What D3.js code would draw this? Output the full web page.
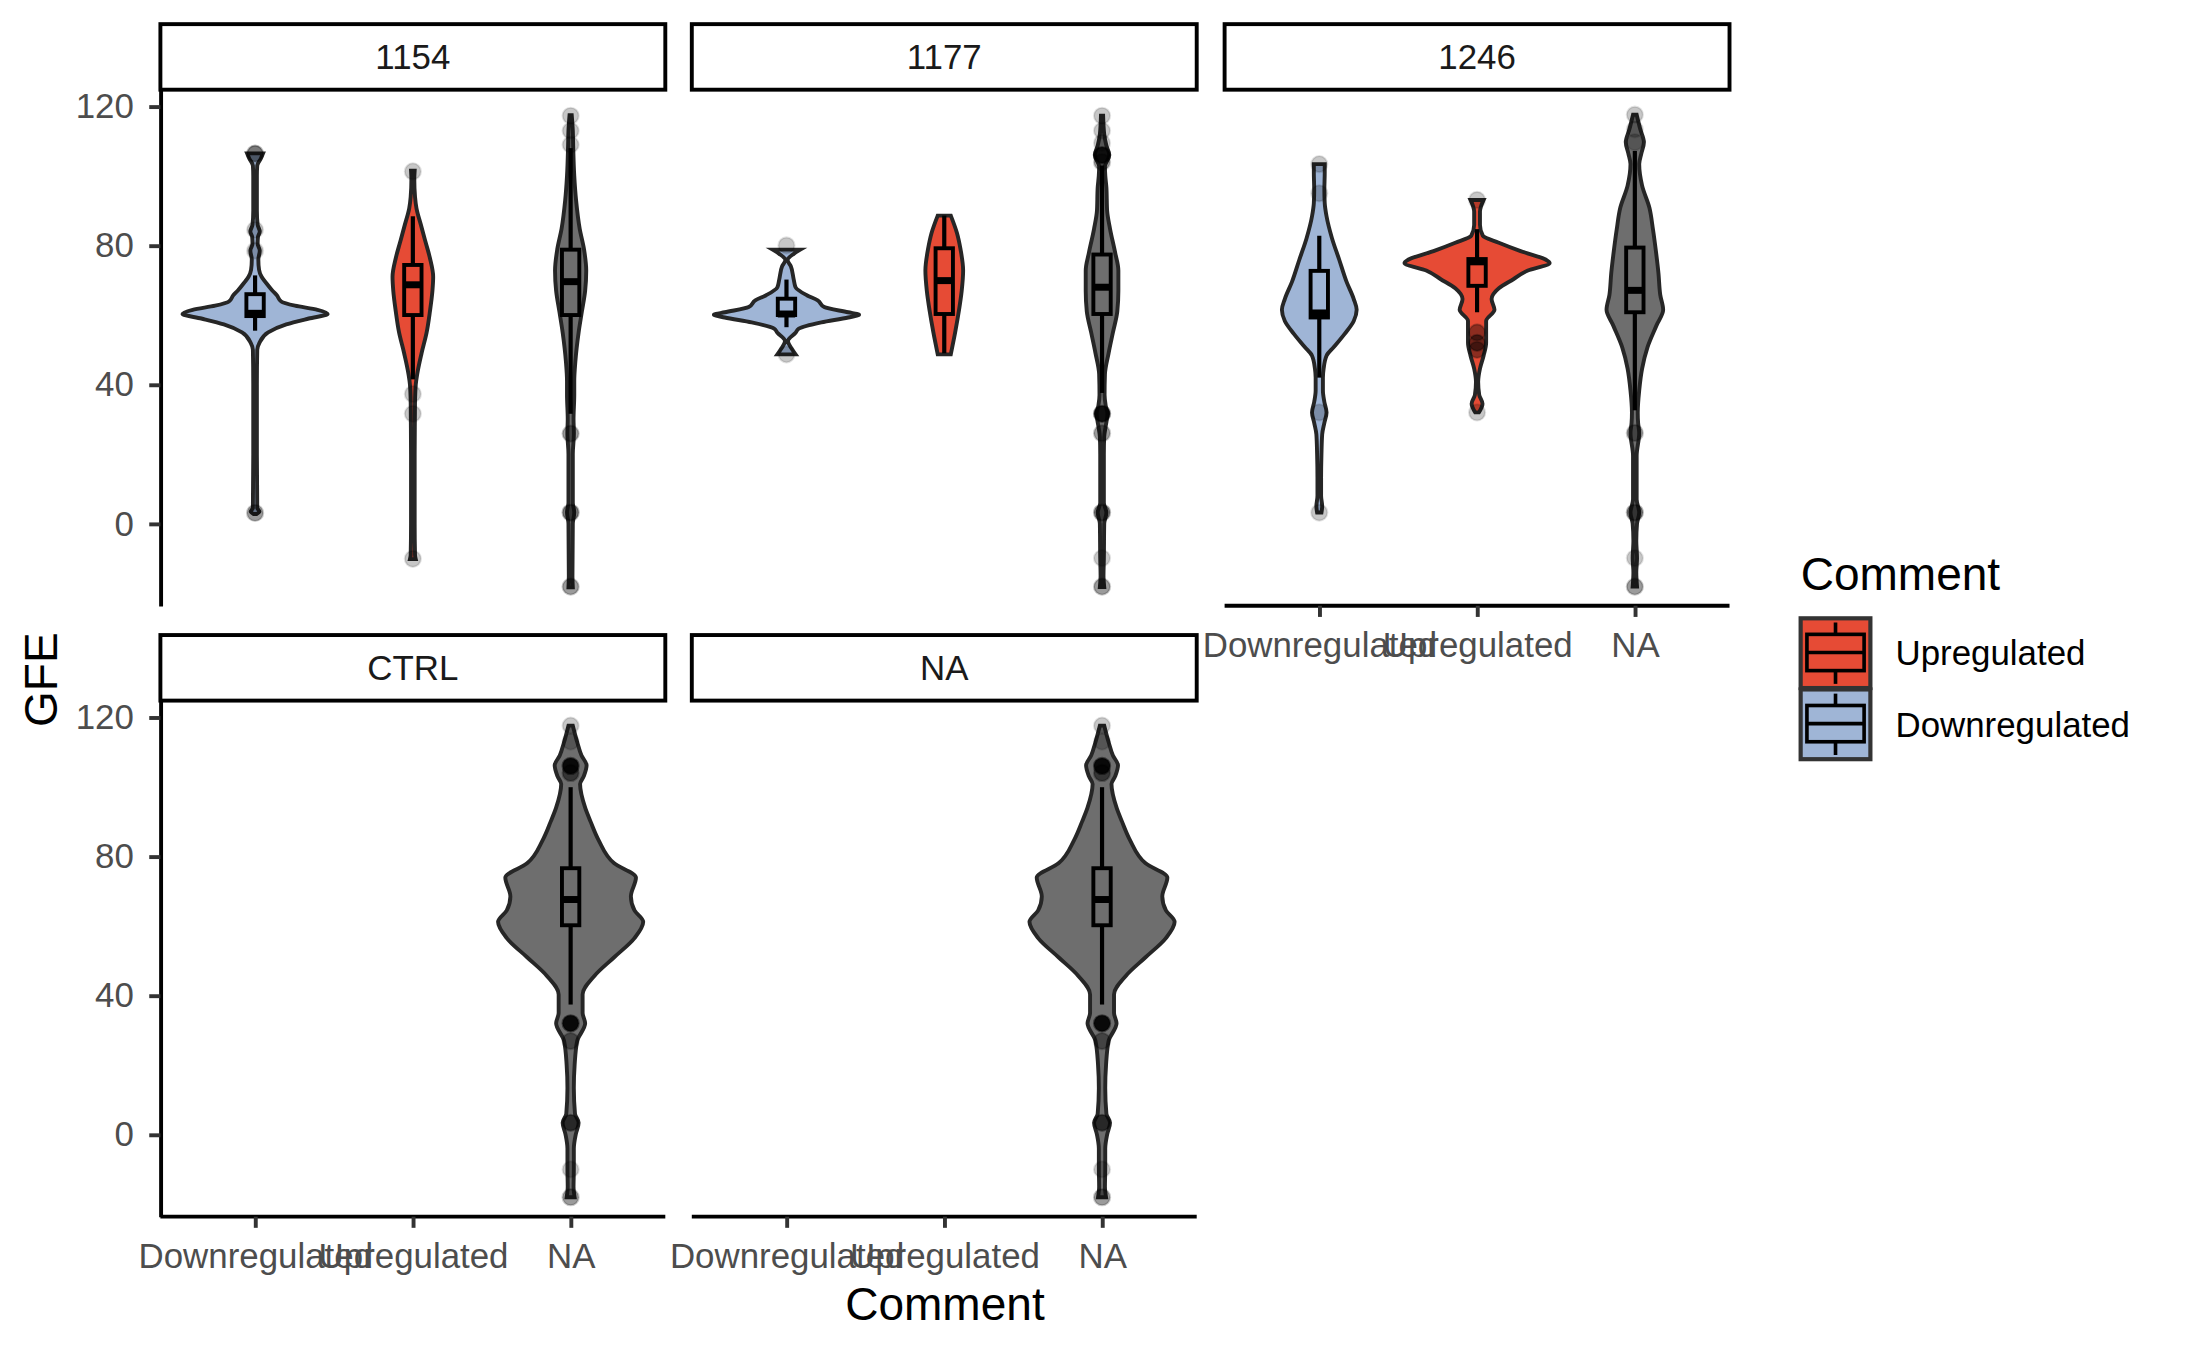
<!DOCTYPE html>
<html>
<head>
<meta charset="utf-8">
<script src="https://cdn.jsdelivr.net/npm/d3@7"></script>
<style>
  body { margin: 0; background: #fff; }
  text { font-family: "Liberation Sans", Arial, Helvetica, sans-serif; }
</style>
</head>
<body>
<div id="chart"></div>
<script>
// categories / facets
const comments = ["Downregulated", "Upregulated", "NA"];
const facets = ["1154", "1177", "1246", "CTRL", "NA"];
const yTicks = [0, 40, 80, 120];
const legendItems = ["Upregulated", "Downregulated"];

// violin outlines: [GFE, relative half width]
const v1154Down = [[2.8,0.02],[3.5,0.06],[4.5,0.03],[20,0.025],[40,0.025],[50,0.03],[52,0.06],[55,0.18],[57.3,0.43],[59,0.74],[60.3,1.0],[61.5,0.86],[62.7,0.55],[63.9,0.36],[65.7,0.3],[67,0.24],[69.3,0.15],[71,0.09],[73,0.055],[76,0.045],[78.5,0.065],[80.5,0.035],[82.5,0.04],[84,0.065],[86,0.035],[90,0.025],[100,0.025],[103,0.03],[105,0.08],[106.5,0.11]];
const v1154Up = [[-10.2,0.04],[-9,0.03],[0,0.025],[20,0.025],[30,0.028],[35,0.03],[40,0.04],[43,0.06],[49,0.12],[55,0.19],[61,0.235],[67,0.27],[71,0.28],[76.4,0.235],[81,0.175],[86,0.11],[90.7,0.05],[94,0.03],[99,0.02],[101.5,0.025]];
const v1154NA = [[-18.3,0.03],[-15,0.025],[0,0.03],[3.3,0.05],[6,0.03],[20,0.03],[26,0.045],[30,0.04],[37,0.05],[41,0.05],[46.6,0.065],[55,0.11],[61,0.155],[67,0.2],[72.8,0.215],[78.8,0.185],[84.8,0.125],[93,0.075],[100,0.05],[108.7,0.035],[113,0.03],[117.5,0.015]];

const v1177Down = [[48.7,0.125],[50.1,0.08],[52.5,0.02],[54.9,0.125],[56.1,0.17],[57.9,0.48],[59.3,0.85],[60.1,1.0],[60.8,0.85],[62.3,0.52],[64.2,0.43],[65.7,0.28],[68,0.125],[70.2,0.1],[74,0.06],[75.8,0.015],[77.6,0.1],[78.8,0.19]];
const v1177Up = [[48.7,0.09],[55,0.15],[61,0.2],[66.9,0.24],[72.8,0.26],[78.8,0.225],[83.6,0.175],[88.6,0.09]];
const v1177NA = [[-18.2,0.03],[-15,0.02],[-10,0.025],[0,0.03],[3.2,0.06],[6,0.025],[20,0.025],[25,0.03],[28,0.05],[31.6,0.075],[34,0.05],[37,0.035],[43,0.04],[49,0.09],[55,0.15],[61,0.21],[67,0.225],[72.8,0.225],[78,0.18],[84.8,0.11],[90,0.07],[96.7,0.06],[100,0.045],[102.7,0.04],[106,0.1],[108.7,0.06],[112,0.03],[117.3,0.015]];

const v1246Down = [[3.2,0.03],[5,0.04],[8,0.025],[13.2,0.025],[20,0.03],[25.7,0.04],[29,0.07],[32,0.1],[35,0.07],[38.3,0.05],[42,0.05],[44.6,0.06],[48.3,0.1],[50.8,0.2],[54.6,0.35],[58.3,0.475],[61.5,0.515],[64.6,0.475],[69.6,0.375],[75.9,0.275],[82.1,0.175],[88.4,0.1],[92.2,0.075],[96,0.07],[101,0.075],[103.4,0.075]];
const v1246Up = [[32,0.025],[34.5,0.075],[37,0.03],[40.8,0.015],[44.6,0.04],[48.3,0.09],[52,0.125],[55.8,0.125],[58.3,0.125],[61.5,0.24],[64.6,0.2],[67.7,0.3],[70.3,0.5],[72.8,0.7],[75,1.0],[75.9,0.95],[78.4,0.6],[80.8,0.3],[82.8,0.08],[85.9,0.04],[89.7,0.04],[93.1,0.09]];
const v1246NA = [[-18.1,0.03],[-14,0.02],[-9.9,0.03],[-5,0.02],[0,0.03],[3.2,0.06],[7,0.025],[15,0.025],[19.5,0.025],[26.1,0.06],[29,0.045],[32,0.04],[38.3,0.06],[44.6,0.1],[50.8,0.175],[57.1,0.3],[61.5,0.39],[65.8,0.35],[72.1,0.325],[78.4,0.29],[84.6,0.25],[90.9,0.2],[97.2,0.1],[103.4,0.06],[106.5,0.09],[109.7,0.125],[113.4,0.075],[117.6,0.025]];

const vCtrlNA = [[-18,0.055],[-15,0.04],[-10,0.044],[-4,0.044],[0,0.07],[3.4,0.11],[6,0.06],[13.4,0.044],[20,0.055],[26.9,0.09],[32,0.2],[35,0.165],[40.3,0.165],[45.7,0.33],[51,0.6],[56.5,0.88],[61.2,1.0],[64.5,0.88],[68.5,0.83],[73.9,0.9],[78,0.6],[84.7,0.385],[90,0.275],[94,0.2],[100.8,0.13],[103,0.18],[106.2,0.22],[109,0.15],[112.9,0.09],[117.6,0.03]];

// box stats: [lower whisker, q1, median, q3, upper whisker]
const b1154 = [[55.5,59.7,60.5,66,71.4],[41.5,60,68.7,74.4,88.4],[31.6,60,69.6,78.8,108]];
const b1177 = [[56.5,60,60.3,64.7,70.2],[49,60.3,69.9,79.2,88.6],[37.6,60.3,68,77.4,103]];
const b1246 = [[42,59.3,60.6,72.7,82.8],[60.8,68.4,75.3,76.1,84.7],[32.6,60.8,67.1,79.4,107.2]];
const bCtrl = [null,null,[37.4,60.2,67.6,76.6,99.9]];

// points: [GFE, number of stacked points]
const p1154 = [[[3.1,2],[78.5,1],[84.5,1],[106.4,3]],[[101.3,1],[37.3,1],[31.6,1],[-10.1,1]],[[117.3,1],[113,1],[109,1],[25.9,2],[3.2,3],[-18.1,2]]];
const p1177 = [[[80,1],[48.7,1]],[],[[117.3,1],[113,1],[109.5,1],[106,8],[104,2],[31.6,8],[26,2],[3.2,3],[-9.9,1],[-18.1,2]]];
const p1246 = [[[103.4,1],[95,1],[32,1],[3.2,1]],[[93.1,1],[55,2],[52,3],[50,2],[32,1]],[[117.6,1],[113.4,1],[109.7,1],[26.1,2],[3.2,3],[-9.9,1],[-18.1,2]]];
const pCtrl = [[],[],[[117.6,1],[113,1],[106,10],[104,3],[32,10],[26.9,2],[3.4,4],[-10,1],[-18,2]]];

const violins = {"1154":[v1154Down,v1154Up,v1154NA],"1177":[v1177Down,v1177Up,v1177NA],"1246":[v1246Down,v1246Up,v1246NA],"CTRL":[null,null,vCtrlNA],"NA":[null,null,vCtrlNA]};
const boxes = {"1154":b1154,"1177":b1177,"1246":b1246,"CTRL":bCtrl,"NA":bCtrl};
const points = {"1154":p1154,"1177":p1177,"1246":p1246,"CTRL":pCtrl,"NA":pCtrl};

const fills = {"Downregulated":"#9fb5d6","Upregulated":"#e64b35","NA":"#6e6e6e"};

const W = 1568, H = 968;
const colX = [115, 496, 878], panelW = 362;
const stripTop = [17, 455], stripH = 47, panelH = 370;
const fs = 25, titleFs = 33;

const svg = d3.select("#chart").append("svg")
  .attr("width", 2187).attr("height", 1351)
  .attr("viewBox", `0 0 ${W} ${H}`);

facets.forEach((f, i) => {
  const col = i % 3, row = Math.floor(i / 3);
  const x0 = colX[col], top = stripTop[row] + stripH, bottom = top + panelH;
  const x = d3.scalePoint().domain(comments).range([x0, x0 + panelW]).padding(0.6);
  const y = d3.scaleLinear().domain([-23.6, 124.8]).range([bottom, top]);
  const mh = 0.46 * x.step(), bh = 0.055 * x.step();
  const g = svg.append("g");

  // strip
  g.append("rect").attr("x", x0).attr("y", stripTop[row]).attr("width", panelW).attr("height", stripH)
    .attr("fill", "#fff").attr("stroke", "#000").attr("stroke-width", 2.8);
  g.append("text").attr("x", x0 + panelW / 2).attr("y", stripTop[row] + stripH / 2)
    .attr("dy", "0.35em").attr("text-anchor", "middle").attr("font-size", fs).attr("fill", "#1a1a1a").text(f);

  comments.forEach((c, k) => {
    const prof = violins[f][k];
    if (!prof) return;
    const cx = x(c);
    const area = d3.area().curve(d3.curveMonotoneY)
      .y(d => y(d[0])).x0(d => cx - d[1] * mh).x1(d => cx + d[1] * mh);
    g.append("path").attr("d", area(prof)).attr("fill", fills[c])
      .attr("stroke", "#262626").attr("stroke-width", 2.8);

    g.selectAll(null).data(points[f][k]).enter().append("circle")
      .attr("cx", cx).attr("cy", d => y(d[0])).attr("r", 5.8)
      .attr("fill", "#000").attr("fill-opacity", d => 1 - Math.pow(0.78, d[1]))
      .attr("stroke", "#000").attr("stroke-opacity", d => 0.5 * (1 - Math.pow(0.78, d[1]))).attr("stroke-width", 1.5);

    const b = boxes[f][k];
    g.append("line").attr("x1", cx).attr("x2", cx).attr("y1", y(b[0])).attr("y2", y(b[1]))
      .attr("stroke", "#000").attr("stroke-width", 3);
    g.append("line").attr("x1", cx).attr("x2", cx).attr("y1", y(b[3])).attr("y2", y(b[4]))
      .attr("stroke", "#000").attr("stroke-width", 3);
    g.append("rect").attr("x", cx - bh).attr("width", 2 * bh)
      .attr("y", y(b[3])).attr("height", y(b[1]) - y(b[3]))
      .attr("fill", fills[c]).attr("stroke", "#000").attr("stroke-width", 2.8);
    g.append("line").attr("x1", cx - bh).attr("x2", cx + bh).attr("y1", y(b[2])).attr("y2", y(b[2]))
      .attr("stroke", "#000").attr("stroke-width", 5);
  });

  // axes
  if (col === 0) {
    const ax = g.append("g").attr("transform", `translate(${x0},0)`)
      .call(d3.axisLeft(y).tickValues(yTicks).tickSize(8).tickSizeOuter(0).tickPadding(11));
    ax.select(".domain").attr("stroke-width", 2.8);
    ax.selectAll(".tick line").attr("stroke-width", 2.8).attr("stroke", "#333");
    ax.selectAll(".tick text").attr("font-size", fs).attr("fill", "#4d4d4d")
      .style("font-family", '"Liberation Sans", Arial, sans-serif');
  }
  if (i >= 2) {
    const ax = g.append("g").attr("transform", `translate(0,${bottom})`)
      .call(d3.axisBottom(x).tickSize(8).tickSizeOuter(0).tickPadding(11));
    ax.select(".domain").attr("stroke-width", 2.8).attr("d", `M${x0},0H${x0 + panelW}`);
    ax.selectAll(".tick line").attr("stroke-width", 2.8).attr("stroke", "#333");
    ax.selectAll(".tick text").attr("font-size", fs).attr("fill", "#4d4d4d")
      .style("font-family", '"Liberation Sans", Arial, sans-serif');
  }
});

// axis titles
svg.append("text").attr("transform", "translate(41,487) rotate(-90)")
  .attr("text-anchor", "middle").attr("font-size", titleFs).attr("fill", "#000").text("GFE");
svg.append("text").attr("x", (colX[0] + colX[2] + panelW) / 2).attr("y", 946)
  .attr("text-anchor", "middle").attr("font-size", titleFs).attr("fill", "#000").text("Comment");

// legend
const lg = svg.append("g").attr("transform", "translate(1291,0)");
lg.append("text").attr("x", 0).attr("y", 423).attr("font-size", titleFs).attr("fill", "#000").text("Comment");
legendItems.forEach((c, k) => {
  const ky = 443 + k * 51, ks = 50;
  lg.append("rect").attr("x", 0).attr("y", ky).attr("width", ks).attr("height", ks)
    .attr("fill", fills[c]).attr("stroke", "#333").attr("stroke-width", 3);
  lg.append("line").attr("x1", ks / 2).attr("x2", ks / 2).attr("y1", ky + 3).attr("y2", ky + ks - 3)
    .attr("stroke", "#000").attr("stroke-width", 2.6);
  lg.append("rect").attr("x", 4.5).attr("y", ky + 11.5).attr("width", ks - 9).attr("height", 26)
    .attr("fill", fills[c]).attr("stroke", "#000").attr("stroke-width", 2.6);
  lg.append("line").attr("x1", 4.5).attr("x2", ks - 4.5).attr("y1", ky + 24.5).attr("y2", ky + 24.5)
    .attr("stroke", "#000").attr("stroke-width", 2.6);
  lg.append("text").attr("x", 68).attr("y", ky + ks / 2).attr("dy", "0.35em")
    .attr("font-size", fs).attr("fill", "#000").text(c);
});
</script>
</body>
</html>
